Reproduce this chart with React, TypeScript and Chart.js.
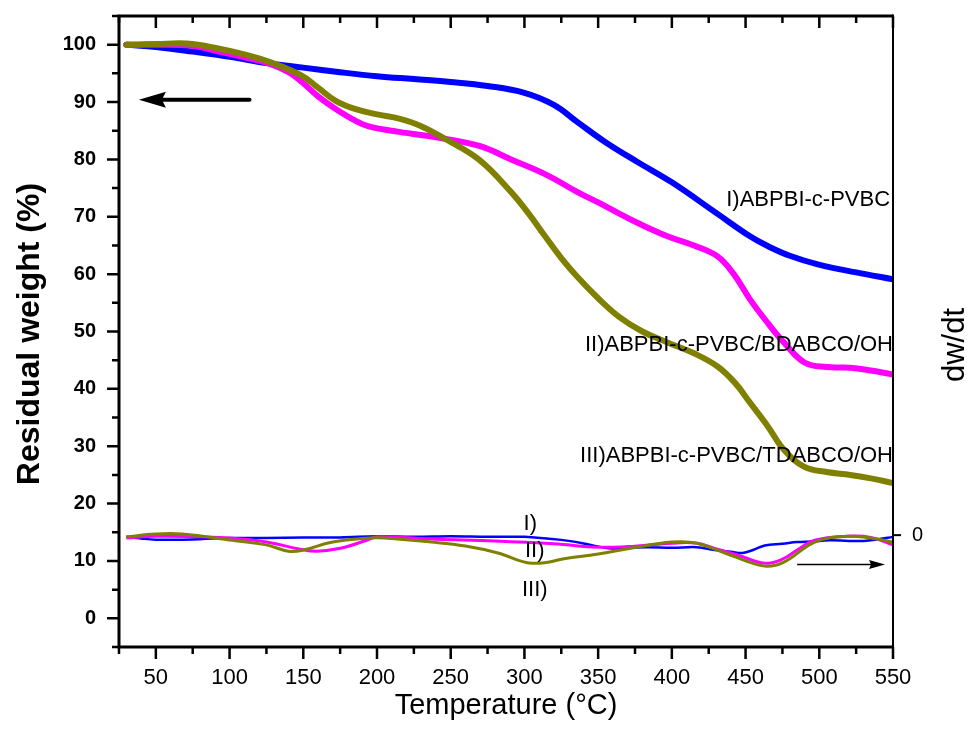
import React, { useEffect, useRef } from 'react';
import { Chart, registerables } from 'chart.js';

Chart.register(...registerables);

// ---------- data ----------
const tempI = [30, 50, 75, 100, 125, 150, 175, 200, 225, 250, 275, 300, 320, 336, 355, 377, 400, 431, 453, 465, 480, 499, 525, 550];
const weightI = [100, 99.6, 98.8, 97.9, 96.8, 96.0, 95.2, 94.5, 94.0, 93.5, 92.8, 91.6, 89.5, 86.5, 83.0, 79.5, 76.0, 70.5, 66.6, 64.9, 63.2, 61.7, 60.3, 59.1];

const tempII = [30, 50, 75, 93, 110, 127, 140, 149, 160, 172, 185, 195, 215, 246, 270, 291, 315, 336, 350, 364, 377, 397, 415, 431, 442, 453, 465, 476, 490, 505, 521, 535, 550];
const weightII = [100, 100, 99.8, 98.8, 97.8, 96.7, 95.2, 93.5, 91.0, 88.8, 86.8, 85.7, 84.8, 83.6, 82.3, 80.0, 77.3, 74.3, 72.5, 70.6, 68.9, 66.6, 65.0, 63.1, 60.0, 55.6, 51.5, 48.1, 44.6, 43.8, 43.7, 43.2, 42.5];

const tempIII = [30, 50, 71, 93, 110, 127, 149, 160, 172, 185, 201, 215, 230, 246, 269, 291, 303, 314, 325, 336, 350, 364, 380, 397, 415, 431, 443, 453, 465, 476, 490, 505, 521, 535, 550];
const weightIII = [100, 100.1, 100.2, 99.3, 98.3, 97.0, 94.6, 92.5, 90.2, 88.8, 87.8, 87.1, 85.8, 83.6, 80.0, 74.3, 70.5, 66.6, 62.8, 59.5, 55.8, 52.6, 50.0, 48.1, 46.2, 43.9, 41.0, 37.6, 33.5, 29.4, 26.4, 25.5, 25.0, 24.4, 23.6];

// derivative curves (dw/dt, arbitrary units, right axis)
const dTempI = [30, 40, 50, 65, 80, 100, 125, 150, 175, 200, 225, 250, 275, 300, 315, 330, 345, 357, 370, 383, 400, 417, 429, 440, 448, 455, 463, 475, 485, 495, 507, 520, 530, 540, 550];
const dwI = [-0.3, -0.6, -0.8, -0.8, -0.7, -0.5, -0.5, -0.4, -0.4, -0.2, -0.3, -0.2, -0.3, -0.3, -0.6, -1.0, -1.7, -2.3, -2.2, -2.1, -2.2, -2.1, -2.6, -2.9, -3.1, -2.6, -1.8, -1.5, -1.2, -1.1, -0.9, -1.0, -1.0, -0.7, -0.3];

const dTempII = [30, 50, 80, 100, 125, 147, 159, 175, 193, 200, 240, 280, 320, 350, 370, 400, 417, 429, 445, 463, 475, 485, 497, 519, 535, 550];
const dwII = [-0.5, -0.2, -0.3, -0.5, -1.2, -2.4, -2.8, -2.3, -0.9, -0.3, -0.7, -1.0, -1.5, -2.1, -2.0, -1.4, -1.4, -2.3, -3.5, -4.9, -4.2, -2.6, -0.9, -0.2, -0.4, -1.7];

const dTempIII = [30, 50, 68, 102, 125, 140, 150, 170, 195, 205, 237, 260, 282, 305, 330, 350, 372, 400, 417, 440, 463, 476, 497, 519, 535, 550];
const dwIII = [-0.3, 0.2, 0.2, -0.9, -1.7, -2.8, -2.6, -1.2, -0.5, -0.5, -1.2, -1.9, -3.1, -4.9, -4.0, -3.3, -2.3, -1.2, -1.4, -3.5, -5.4, -4.7, -1.2, -0.2, -0.5, -1.2];

const xTicks = [50, 100, 150, 200, 250, 300, 350, 400, 450, 500, 550];
const xMinorTicks = [25, 75, 125, 175, 225, 275, 325, 375, 425, 475, 525];
const yTicks = [0, 10, 20, 30, 40, 50, 60, 70, 80, 90, 100];
const yMinorTicks = [-5, 5, 15, 25, 35, 45, 55, 65, 75, 85, 95, 105];
const y2Ticks = [0];

const seriesLabels = ['I)ABPBI-c-PVBC', 'II)ABPBI-c-PVBC/BDABCO/OH', 'III)ABPBI-c-PVBC/TDABCO/OH'];
const derivLabels = ['I)', 'II)', 'III)'];

const BLUE = '#0000ff';
const MAGENTA = '#ff00ff';
const OLIVE = '#808000';
const FONT = '"Liberation Sans", Arial, sans-serif';

const pts = (xs: number[], ys: number[]) => xs.map((x, i) => ({ x, y: ys[i] }));

const decorPlugin = {
  id: 'decor',
  afterDraw(chart: any) {
    const ctx = chart.ctx;
    const xs = chart.scales.x;
    const ys = chart.scales.y;
    const y2 = chart.scales.y2;
    const { left, right, top, bottom } = chart.chartArea;
    ctx.save();
    ctx.strokeStyle = '#000';
    ctx.fillStyle = '#000';
    ctx.lineCap = 'butt';

    // frame
    ctx.lineWidth = 3;
    ctx.beginPath();
    ctx.moveTo(left, top); ctx.lineTo(right, top);
    ctx.moveTo(left, bottom); ctx.lineTo(right, bottom);
    ctx.moveTo(left, top - 1.5); ctx.lineTo(left, bottom + 1.5);
    ctx.stroke();
    ctx.lineWidth = 2;
    ctx.beginPath();
    ctx.moveTo(right, top - 1.5); ctx.lineTo(right, bottom + 1.5);
    ctx.stroke();

    // ticks
    ctx.lineWidth = 2.5;
    ctx.beginPath();
    xTicks.forEach(v => {
      const px = xs.getPixelForValue(v);
      ctx.moveTo(px, bottom); ctx.lineTo(px, bottom + 12);
      ctx.moveTo(px, top); ctx.lineTo(px, top + 12);
    });
    xMinorTicks.forEach(v => {
      const px = xs.getPixelForValue(v);
      ctx.moveTo(px, bottom); ctx.lineTo(px, bottom + 7);
      ctx.moveTo(px, top); ctx.lineTo(px, top + 7);
    });
    yTicks.forEach(v => {
      const py = ys.getPixelForValue(v);
      ctx.moveTo(left, py); ctx.lineTo(left - 12, py);
    });
    yMinorTicks.forEach(v => {
      const py = ys.getPixelForValue(v);
      ctx.moveTo(left, py); ctx.lineTo(left - 7, py);
    });
    ctx.stroke();
    ctx.lineWidth = 2;
    ctx.beginPath();
    y2Ticks.forEach(v => {
      const py = y2.getPixelForValue(v);
      ctx.moveTo(right, py); ctx.lineTo(right + 8, py);
    });
    ctx.stroke();

    // axis titles
    ctx.textAlign = 'center';
    ctx.textBaseline = 'middle';
    ctx.font = `29px ${FONT}`;
    ctx.fillText('Temperature (°C)', (left + right) / 2, 706);

    ctx.save();
    ctx.translate(30, 334);
    ctx.rotate(-Math.PI / 2);
    ctx.font = `bold 32px ${FONT}`;
    ctx.fillText('Residual weight (%)', 0, 0);
    ctx.restore();

    ctx.save();
    ctx.translate(955, 345);
    ctx.rotate(-Math.PI / 2);
    ctx.font = `31px ${FONT}`;
    ctx.fillText('dw/dt', 0, 0);
    ctx.restore();

    // curve labels
    ctx.font = `22px ${FONT}`;
    ctx.textAlign = 'right';
    ctx.fillText(seriesLabels[0], xs.getPixelForValue(548), ys.getPixelForValue(73));
    ctx.fillText(seriesLabels[1], xs.getPixelForValue(550), ys.getPixelForValue(47.7));
    ctx.fillText(seriesLabels[2], xs.getPixelForValue(550), ys.getPixelForValue(28.3));
    ctx.textAlign = 'center';
    ctx.fillText(derivLabels[0], xs.getPixelForValue(304), ys.getPixelForValue(16.4));
    ctx.fillText(derivLabels[1], xs.getPixelForValue(307), ys.getPixelForValue(11.7));
    ctx.fillText(derivLabels[2], xs.getPixelForValue(307), ys.getPixelForValue(4.9));

    // thick left arrow
    {
      const ay = ys.getPixelForValue(90.4);
      const x0 = xs.getPixelForValue(113.5);
      const tip = xs.getPixelForValue(38.5);
      ctx.lineWidth = 4;
      ctx.lineCap = 'round';
      ctx.beginPath();
      ctx.moveTo(x0, ay); ctx.lineTo(tip + 20, ay);
      ctx.stroke();
      ctx.beginPath();
      ctx.moveTo(tip, ay);
      ctx.lineTo(tip + 27, ay - 8);
      ctx.lineTo(tip + 23, ay);
      ctx.lineTo(tip + 27, ay + 8);
      ctx.closePath();
      ctx.fill();
    }
    // thin right arrow
    {
      const ay = ys.getPixelForValue(9.4);
      const x0 = xs.getPixelForValue(485);
      const tip = xs.getPixelForValue(544.6);
      ctx.lineWidth = 1.5;
      ctx.lineCap = 'butt';
      ctx.beginPath();
      ctx.moveTo(x0, ay); ctx.lineTo(tip - 10, ay);
      ctx.stroke();
      ctx.beginPath();
      ctx.moveTo(tip, ay);
      ctx.lineTo(tip - 16, ay - 4.5);
      ctx.lineTo(tip - 14, ay);
      ctx.lineTo(tip - 16, ay + 4.5);
      ctx.closePath();
      ctx.fill();
    }
    ctx.restore();
  },
};

export default function App() {
  const ref = useRef<HTMLCanvasElement | null>(null);
  useEffect(() => {
    if (!ref.current) return;
    const tgaStyle = { borderWidth: 6, pointRadius: 0, tension: 0.4, fill: false, yAxisID: 'y', borderCapStyle: 'round' as const, borderJoinStyle: 'round' as const };
    const dStyle = { borderWidth: 3, pointRadius: 0, tension: 0.4, fill: false, yAxisID: 'y2', borderJoinStyle: 'round' as const };
    const chart = new Chart(ref.current, {
      type: 'line',
      data: {
        datasets: [
          { ...tgaStyle, label: seriesLabels[2], data: pts(tempIII, weightIII), borderColor: OLIVE, order: 0 },
          { ...tgaStyle, label: seriesLabels[1], data: pts(tempII, weightII), borderColor: MAGENTA, order: 1 },
          { ...tgaStyle, label: seriesLabels[0], data: pts(tempI, weightI), borderColor: BLUE, order: 2 },
          { ...dStyle, label: 'dIII', data: pts(dTempIII, dwIII), borderColor: OLIVE, order: 3 },
          { ...dStyle, label: 'dII', data: pts(dTempII, dwII), borderColor: MAGENTA, order: 4 },
          { ...dStyle, label: 'dI', data: pts(dTempI, dwI), borderColor: BLUE, borderWidth: 2.5, order: 5 },
        ],
      },
      options: {
        responsive: false,
        animation: false,
        devicePixelRatio: 1,
        layout: { padding: { top: 16, left: 0, right: 0, bottom: 0 } },
        plugins: { legend: { display: false }, tooltip: { enabled: false } },
        scales: {
          x: {
            type: 'linear',
            min: 25,
            max: 550,
            grid: { display: false, drawTicks: false },
            border: { display: false },
            afterBuildTicks: (s: any) => { s.ticks = xTicks.map(v => ({ value: v })); },
            afterFit: (s: any) => { s.height = 93; s.paddingLeft = 0; s.paddingRight = 0; },
            ticks: { color: '#000', font: { family: FONT, size: 22 }, padding: 18, maxRotation: 0, autoSkip: false },
          },
          y: {
            type: 'linear',
            position: 'left',
            min: -5,
            max: 105,
            grid: { display: false, drawTicks: false },
            border: { display: false },
            afterBuildTicks: (s: any) => { s.ticks = yTicks.map(v => ({ value: v })); },
            afterFit: (s: any) => { s.width = 119; s.paddingTop = 0; s.paddingBottom = 0; },
            ticks: { color: '#000', font: { family: FONT, size: 20, weight: 'bold' }, padding: 23, autoSkip: false },
          },
          y2: {
            type: 'linear',
            position: 'right',
            min: -19.5,
            max: 90.5,
            grid: { display: false, drawTicks: false },
            border: { display: false },
            afterBuildTicks: (s: any) => { s.ticks = y2Ticks.map(v => ({ value: v })); },
            afterFit: (s: any) => { s.width = 74; s.paddingTop = 0; s.paddingBottom = 0; },
            ticks: { color: '#000', font: { family: FONT, size: 20 }, padding: 19, autoSkip: false },
          },
        },
      },
      plugins: [decorPlugin],
    });
    return () => chart.destroy();
  }, []);
  return (
    <div style={{ position: 'absolute', left: 0, top: 0, width: 967, height: 740, background: '#fff' }}>
      <canvas ref={ref} width={967} height={740} style={{ display: 'block' }} />
    </div>
  );
}
